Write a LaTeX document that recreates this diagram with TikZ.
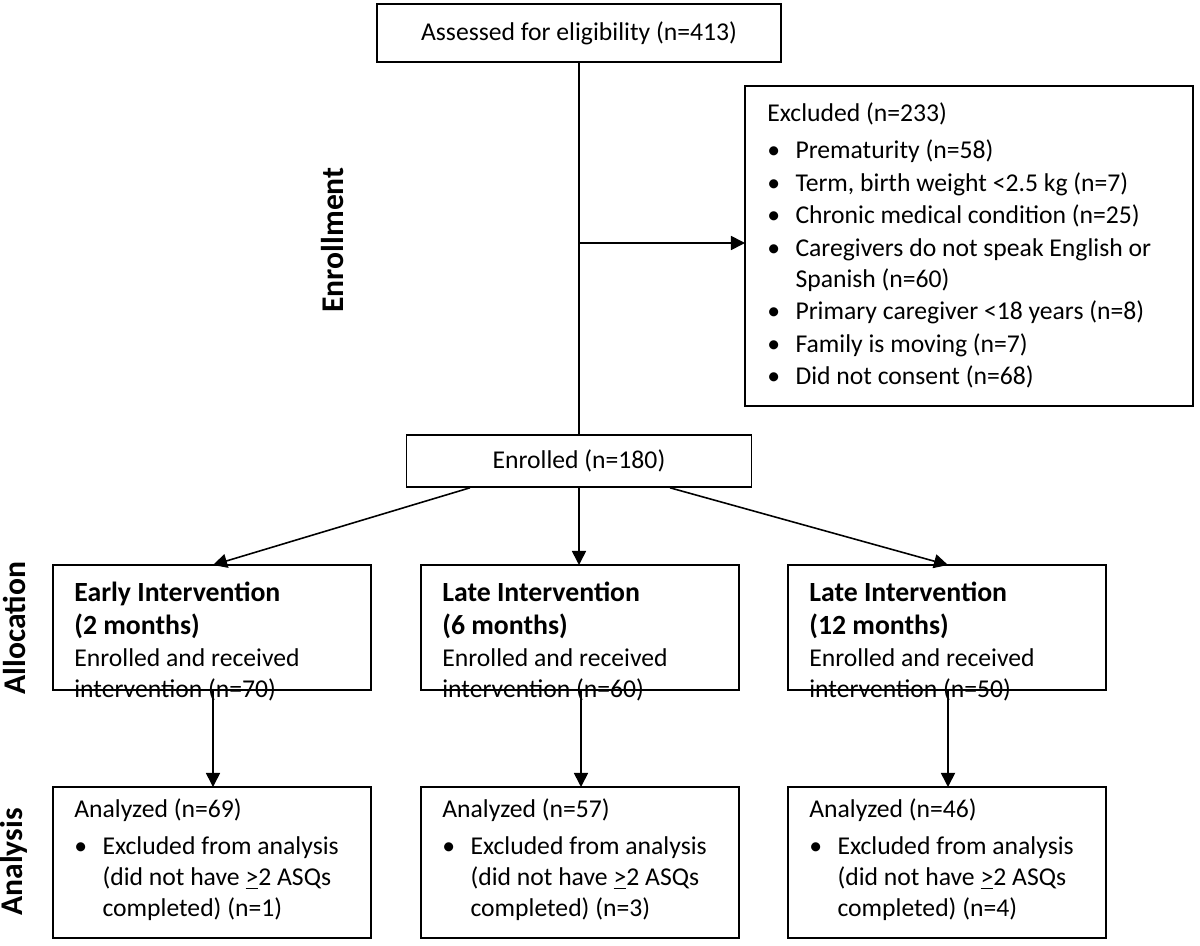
\documentclass[tikz,border=0pt]{standalone}
\usepackage{fontspec}
\setmainfont{Carlito}
\usetikzlibrary{arrows.meta}
\newcommand\bul{\textbullet\hspace{0.6em}}
\tikzset{
  box/.style={draw, line width=0.9pt, inner sep=0pt},
  txt/.style={anchor=north west, align=left, inner sep=0pt, font=\fontsize{14.6}{17.5}\selectfont},
  phase/.style={rotate=90, font=\fontsize{18}{20}\selectfont\bfseries},
  link/.style={line width=0.9pt, -{Triangle[length=8pt,width=8pt]}}
}
\begin{document}
\begin{tikzpicture}[x=0.02cm, y=-0.02cm]
    \useasboundingbox (0,0) rectangle (1200,946);
    % boxes
    \node[box, minimum width=404*0.02cm, minimum height=58*0.02cm] (assess) at (579,33) {\fontsize{14.6}{17}\selectfont Assessed for eligibility (n=413)};
    \node[box, minimum width=345*0.02cm, minimum height=52*0.02cm] (enrol) at (579,461) {\fontsize{14.6}{17}\selectfont Enrolled (n=180)};
    \draw[line width=0.9pt] (745,86) rectangle (1193,406);
    \node[txt] (excl) at (767,102) {Excluded (n=233)\\[4pt]
        \bul Prematurity (n=58)\\[1pt]
        \bul Term, birth weight <2.5 kg (n=7)\\[1pt]
        \bul Chronic medical condition (n=25)\\[1pt]
        \bul Caregivers do not speak English or\\
        \hphantom{\bul}Spanish (n=60)\\[1pt]
        \bul Primary caregiver <18 years (n=8)\\[1pt]
        \bul Family is moving (n=7)\\[1pt]
        \bul Did not consent (n=68)};
    \coordinate (exclL) at (745,243);
    \coordinate (split) at (579,243);
    % allocation and analysis
    \foreach \n/\x/\title/\mon/\ra/\rb/\ex in {a/53/Early/2/70/69/1, b/421/Late/6/60/57/3, c/788/Late/12/50/46/4}{
        \draw[line width=0.9pt] (\x,565) rectangle ++(318,125);
        \coordinate (al\n) at (\x+160,565);
        \coordinate (alb\n) at (\x+160,690);
        \node[txt] at (\x+21,582) {\textbf{\fontsize{15.8}{17.5}\selectfont\title\ Intervention}\\[1pt]
            \textbf{\fontsize{15.8}{17.5}\selectfont(\mon\ months)}\\[1pt]
            Enrolled and received\\ intervention (n=\ra)};
        \draw[line width=0.9pt] (\x,787) rectangle ++(318,151);
        \coordinate (an\n) at (\x+160,787);
        \node[txt] at (\x+21,798) {Analyzed (n=\rb)\\[4pt]
            \bul Excluded from analysis\\
            \hphantom{\bul}(did not have \underline{>}2 ASQs\\
            \hphantom{\bul}completed) (n=\ex)};
        \draw[link] (alb\n) -- (an\n);
    }
    % connectors
    \draw[line width=0.9pt] (assess.south) -- (enrol.north);
    \draw[link] (split) -- (exclL);
    \draw[link] (enrol.south -| 470,0) -- (ala);
    \draw[link] (enrol.south) -- (enrol.south |- alb);
    \draw[link] (enrol.south -| 670,0) -- (alc);
    % phases
    \node[phase] (enrollment) at (333,240) {Enrollment};
    \node[phase] (allocation) at (14,628) {Allocation};
    \node[phase] (analysis) at (14,862) {Analysis};
\end{tikzpicture}
\end{document}
